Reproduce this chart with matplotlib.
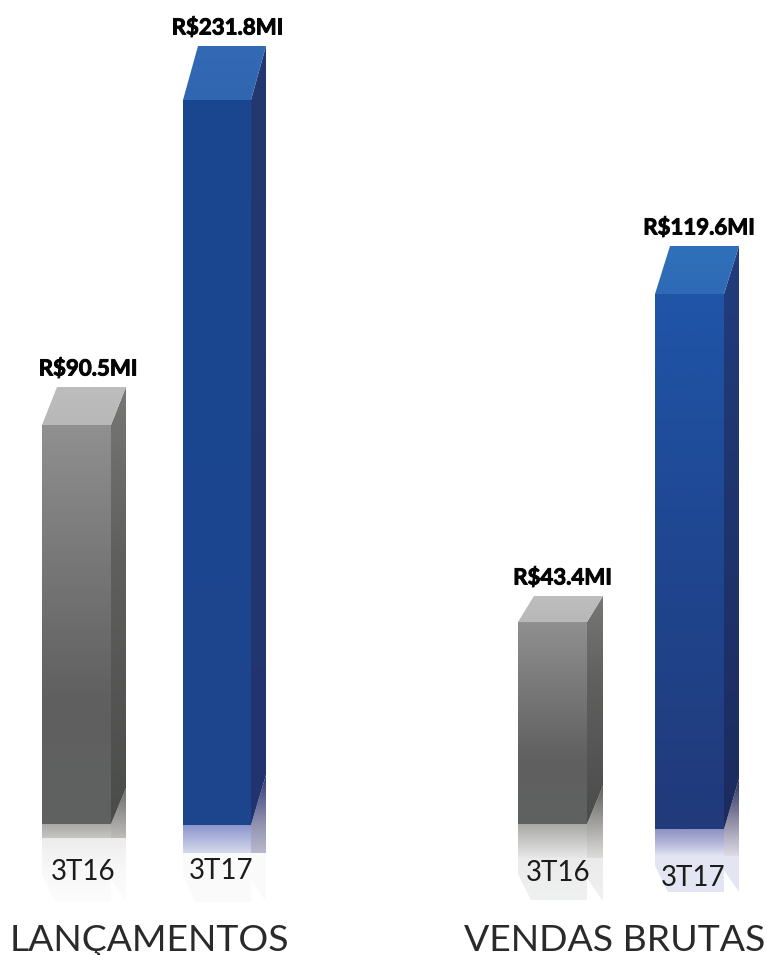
import numpy as np
import matplotlib
matplotlib.use("Agg")
import matplotlib.pyplot as plt
from matplotlib.colors import to_rgb
from matplotlib.patches import Polygon
import matplotlib.patheffects as pe

W, H = 767, 955

# Values per panel
panel_titles = ["LANÇAMENTOS", "VENDAS BRUTAS"]
periods = ["3T16", "3T17"]
lancamentos = [90.5, 231.8]
vendas_brutas = [43.4, 119.6]
value_labels = [["R$90.5MI", "R$231.8MI"], ["R$43.4MI", "R$119.6MI"]]

# Each panel has its own linear axis: units-to-pixels factor and a reference row
panel_scale = [2.300, 4.304]
panel_ref_row = [100, 294]
panel_ref_value = [231.8, 119.6]

# Bar geometry in pixels: left edge, front width, side depth, top depth, baseline
bar_left = [[42, 183], [518, 655]]
bar_width = [[69, 68], [69, 69]]
side_w = [[15, 15], [16, 15]]
top_h = [[38, 54], [26, 48]]
side_drop = [[36, 50], [38, 50]]
baseline = [[824, 825], [824, 829]]
refl_end = [[838, 853], [858, 856]]
floor_end = [[901, 902], [900, 892]]
value_label_x = [[88, 227.5], [562.5, 699]]
period_label_x = [[83, 221], [558.5, 693]]
period_label_row = [[872, 871], [873, 878]]
title_x = [149, 614.5]

GRAY = dict(
    front=[(0, "#909090"), (.35, "#777777"), (.7, "#5f5f5f"), (1, "#606261")],
    side=[(0, "#777876"), (.4, "#5f5f5e"), (1, "#4a4c4a")],
    top=[(0, "#bdbdbd"), (1, "#b8b8b8")],
)
BLUE_L = dict(
    front=[(0, "#1a4690"), (.5, "#1b458f"), (1, "#1e468e")],
    side=[(0, "#23396f"), (1, "#21346f")],
    top=[(0, "#346ab5"), (1, "#3065b0")],
)
BLUE_R = dict(
    front=[(0, "#1f55a8"), (.5, "#1f4690"), (1, "#213a7a")],
    side=[(0, "#223c7c"), (1, "#1c2b5e")],
    top=[(0, "#3070ba"), (1, "#2e6ab5")],
)
face_styles = [[GRAY, BLUE_L], [GRAY, BLUE_R]]
refl_styles = [
    [dict(front=[(0, "#a9a8a6"), (1, "#c6c6c4")],
          side=[(0, "#6e6e6c"), (1, "#bdbcba")],
          floor=[(0, "#ececec"), (.5, "#f8f8f8"), (1, "#fcfcfc")]),
     dict(front=[(0, "#8a94cc"), (1, "#d6daec")],
          side=[(0, "#2d3a78"), (.6, "#8d8fae"), (1, "#b9bace")],
          floor=[(0, "#fafafa"), (1, "#fbfbfb")])],
    [dict(front=[(0, "#a8a8a6"), (1, "#e8e8e8")],
          side=[(0, "#5f5f5d"), (.5, "#a09f9c"), (1, "#dedddc")],
          floor=[(0, "#ebebeb"), (1, "#eff0f0")]),
     dict(front=[(0, "#8a8fc0"), (.6, "#b9bcdc"), (1, "#e4e6f3")],
          side=[(0, "#262f66"), (.5, "#86849f"), (1, "#dedbe6")],
          floor=[(0, "#e4e6f3"), (1, "#e3e5f2")])],
]


def ramp(stops, n=256):
    """Vertical colour ramp as an n x 1 RGB image."""
    pos = [p for p, _ in stops]
    rgb = np.array([to_rgb(c) for _, c in stops])
    t = np.linspace(0, 1, n)
    return np.stack([np.interp(t, pos, rgb[:, i]) for i in range(3)], axis=-1)[:, None, :]


plt.rcParams["font.family"] = ["Lato", "Open Sans", "DejaVu Sans"]
fig = plt.figure(figsize=(W / 100, H / 100), dpi=100, facecolor="white")

series = [lancamentos, vendas_brutas]
for p, values in enumerate(series):
    ax = fig.add_axes([0, 0, 1, 1], facecolor="none")
    k, ref_row, ref_val = panel_scale[p], panel_ref_row[p], panel_ref_value[p]
    row2val = lambda r: ref_val + (ref_row - r) / k
    ax.set_xlim(0, W)
    ax.set_ylim(row2val(H), row2val(0))
    ax.set_autoscale_on(False)
    ax.axis("off")

    def shaded(points, stops, z):
        """Fill a polygon with a vertical ramp; points are (x, axis value)."""
        xs = [q[0] for q in points]
        ys = [q[1] for q in points]
        im = ax.imshow(ramp(stops), extent=(min(xs), max(xs), min(ys), max(ys)),
                       origin="upper", aspect="auto", zorder=z, interpolation="bilinear")
        clip = Polygon(points, closed=True, transform=ax.transData, fc="none", ec="none")
        ax.add_patch(clip)
        im.set_clip_path(clip)

    for b, value in enumerate(values):
        x0 = bar_left[p][b]
        x1 = x0 + bar_width[p][b]
        x2 = x1 + side_w[p][b]
        base = row2val(baseline[p][b])
        top_back = value + top_h[p][b] / k
        st = face_styles[p][b]
        rf = refl_styles[p][b]
        r_end = row2val(refl_end[p][b])
        f_end = row2val(floor_end[p][b])
        base_back = base + side_drop[p][b] / k

        # Mirrored floor reflection sits under the bar
        shaded([(x0, r_end), (x1, r_end), (x1, f_end), (x0 + 13, f_end), (x0, f_end + 26 / k)],
               rf["floor"], 1)
        shaded([(x1, r_end), (x2, r_end), (x2, f_end), (x1 + 15, f_end), (x1, f_end + 22 / k)],
               rf["floor"], 1)
        shaded([(x0, base), (x1, base), (x1, r_end), (x0, r_end)], rf["front"], 2)
        shaded([(x1, base), (x2, base_back), (x2, r_end), (x1, r_end)], rf["side"], 2)

        # Front face is the bar proper; the ramp is clipped to it
        bar = ax.bar(x0, value - base, width=x1 - x0, bottom=base, align="edge",
                     color="none", linewidth=0, zorder=3)[0]
        im = ax.imshow(ramp(st["front"]), extent=(x0, x1, base, value), origin="upper",
                       aspect="auto", zorder=3, interpolation="bilinear")
        im.set_clip_path(bar)

        # Side and top faces give the extrusion
        shaded([(x1, value), (x2, top_back), (x2, base_back), (x1, base)], st["side"], 3)
        shaded([(x0, value), (x0 + side_w[p][b], top_back), (x2, top_back), (x1, value)],
               st["top"], 3)

        # Value label above the block
        ax.text(value_label_x[p][b], top_back + 18 / k, value_labels[p][b], ha="center",
                va="center", fontsize=16, fontweight="bold", color="#050505", zorder=5,
                path_effects=[pe.withStroke(linewidth=0.7, foreground="#050505")])

        # Period label over the reflection
        ax.text(period_label_x[p][b], row2val(period_label_row[p][b]), periods[b],
                ha="center", va="center", fontsize=20, color="#1c1c1c", zorder=5)

    ax.text(title_x[p], row2val(940), panel_titles[p], ha="center", va="center",
            fontsize=26.9, color="#2a2a2a", zorder=5)

fig.savefig("out.png", dpi=100, facecolor="white")
